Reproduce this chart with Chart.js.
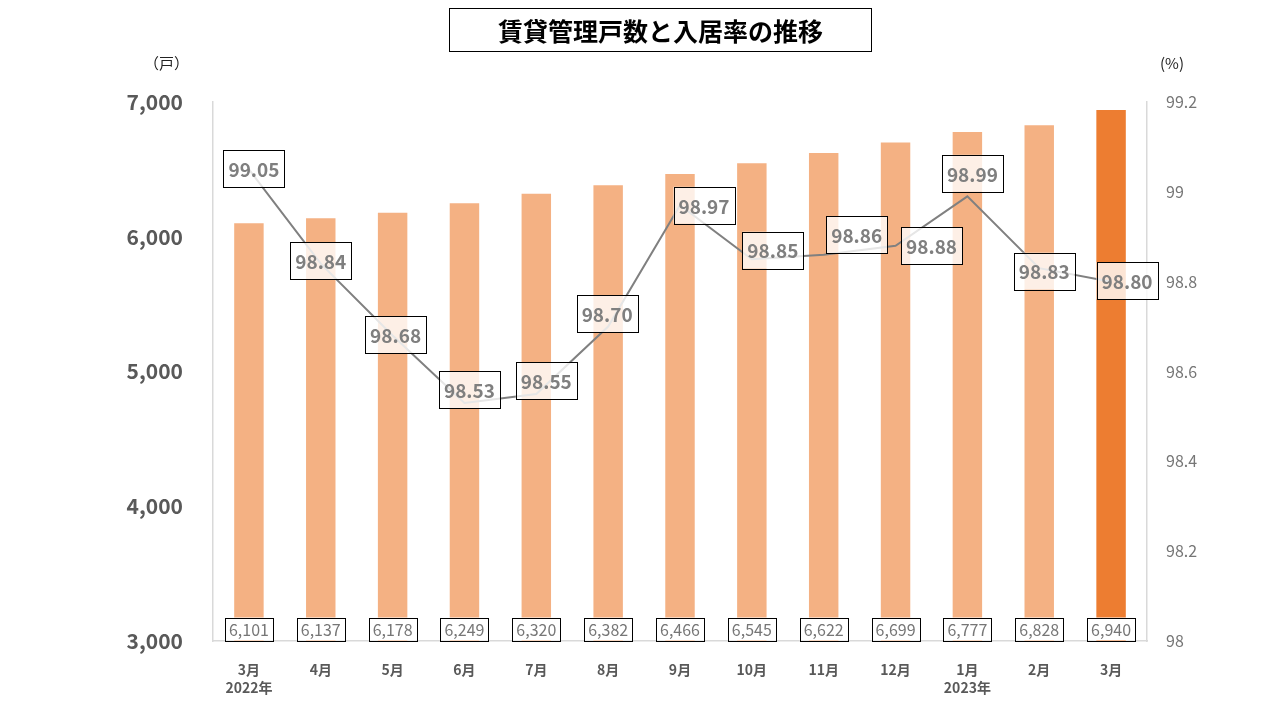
<!DOCTYPE html>
<html>
<head>
<meta charset="utf-8">
<script src="https://cdn.jsdelivr.net/npm/chart.js@4"></script>
<style>
  body { margin: 0; background: #fff; }
  #wrap { position: relative; width: 1280px; height: 720px; font-family: "Noto Sans CJK JP", sans-serif; }
  #title { position: absolute; left: 449px; top: 8px; width: 421px; height: 42px; border: 1.5px solid #000;
           font-size: 25px; font-weight: bold; text-align: center; line-height: 42px; color: #000; }
  .unit { position: absolute; top: 52px; font-size: 15px; color: #222; }
  canvas { position: absolute; left: 0; top: 0; }
</style>
</head>
<body>
<div id="wrap">
  <canvas id="myChart" width="1280" height="720"></canvas>
  <div id="title">賃貸管理戸数と入居率の推移</div>
  <div class="unit" style="left:144px">（戸）</div>
  <div class="unit" style="left:1160px">(%)</div>
</div>
<script>
const labels = [
    ['3月', '2022年'], '4月', '5月', '6月', '7月', '8月', '9月', '10月', '11月', '12月', ['1月', '2023年'], '2月', '3月'
];
const units = [6101, 6137, 6178, 6249, 6320, 6382, 6466, 6545, 6622, 6699, 6777, 6828, 6940];
const occupancy = [99.05, 98.84, 98.68, 98.53, 98.55, 98.70, 98.97, 98.85, 98.86, 98.88, 98.99, 98.83, 98.80];
const leftTicks = [3000, 4000, 5000, 6000, 7000];
const rightTicks = [98, 98.2, 98.4, 98.6, 98.8, 99, 99.2];

// label nudges (px) for the occupancy labels, like the hand placed boxes
const labelShift = [[5,-1],[0,-3],[3,-1],[5,-13],[10,-13],[-1,-13],[24,0],[21,-9],[33,-20],[36,0],[5,-23],[5,3],[16,-1]];

const barColors = units.map((v, i) => i === units.length - 1 ? '#ED7D31' : '#F4B183');
const FONT = '"Noto Sans CJK JP", sans-serif';

const boxLabels = {
    id: 'boxLabels',
    afterDatasetsDraw(chart) {
        const ctx = chart.ctx;
        ctx.save();
        ctx.textAlign = 'center';
        ctx.textBaseline = 'middle';
        // bar values at the bottom
        const barMeta = chart.getDatasetMeta(1);
        ctx.font = '16px ' + FONT;
        barMeta.data.forEach((el, i) => {
            const x = el.x, y = chart.chartArea.bottom - 12;
            const w = 48, h = 23;
            ctx.fillStyle = '#fff';
            ctx.fillRect(x - w / 2, y - h / 2, w, h);
            ctx.strokeStyle = '#000';
            ctx.lineWidth = 1;
            ctx.strokeRect(Math.round(x - w / 2) + 0.5, Math.round(y - h / 2) + 0.5, w, h);
            ctx.fillStyle = '#767676';
            ctx.fillText(units[i].toLocaleString('en-US'), x, y + 1);
        });
        // occupancy values
        const lineMeta = chart.getDatasetMeta(0);
        ctx.font = 'bold 19px ' + FONT;
        lineMeta.data.forEach((el, i) => {
            const x = el.x + labelShift[i][0], y = el.y + labelShift[i][1];
            const w = 61, h = 37;
            ctx.fillStyle = 'rgba(255,255,255,0.8)';
            ctx.fillRect(x - w / 2, y - h / 2, w, h);
            ctx.strokeStyle = '#000';
            ctx.lineWidth = 1;
            ctx.strokeRect(Math.round(x - w / 2) + 0.5, Math.round(y - h / 2) + 0.5, w, h);
            ctx.fillStyle = '#7f7f7f';
            ctx.fillText(occupancy[i].toFixed(2), x, y + 1);
        });
        ctx.restore();
    }
};

const data = {
    labels : labels,
    datasets : [{
        type : 'line',
        label : '入居率',
        data : occupancy,
        yAxisID : 'y1',
        borderColor : '#808080',
        borderWidth : 2,
        pointRadius : 0,
        tension : 0,
        order : 0,
    },{
        type : 'bar',
        label : '賃貸管理戸数',
        data : units,
        yAxisID : 'y',
        backgroundColor : barColors,
        categoryPercentage : 1,
        barPercentage : 0.41,
        order : 1,
    }]
};

const config = {
    data : data,
    options : {
        responsive : false,
        animation : false,
        layout : { padding : { top : 102, left : 0, right : 0, bottom : 0 } },
        plugins : {
            legend : { display : false },
            tooltip : { enabled : false },
        },
        scales : {
            x : {
                grid : { display : false },
                border : { color : '#d9d9d9', width : 1.5 },
                ticks : {
                    color : '#595959',
                    font : { family : FONT, size : 14, weight : 'bold', lineHeight : 1.25 },
                    padding : 12,
                    maxRotation : 0,
                    autoSkip : false,
                },
                afterFit(scale) { scale.height = 79; },
            },
            y : {
                position : 'left',
                min : 3000,
                max : 7000,
                grid : { display : false },
                border : { color : '#d9d9d9', width : 1.5 },
                afterBuildTicks(scale) { scale.ticks = leftTicks.map(v => ({ value : v })); },
                ticks : {
                    color : '#595959',
                    font : { family : FONT, size : 21, weight : 'bold' },
                    padding : 22,
                    callback : v => v.toLocaleString('en-US'),
                },
                afterFit(scale) { scale.width = 213; },
            },
            y1 : {
                position : 'right',
                min : 98,
                max : 99.2,
                grid : { display : false },
                border : { color : '#d9d9d9', width : 1.5 },
                afterBuildTicks(scale) { scale.ticks = rightTicks.map(v => ({ value : v })); },
                ticks : {
                    color : '#767676',
                    font : { family : FONT, size : 16 },
                    padding : 11,
                    callback : v => String(+Number(v).toFixed(1)),
                },
                afterFit(scale) { scale.width = 133; },
            },
        },
    },
    plugins : [boxLabels],
};

const myChart = new Chart(
    document.getElementById('myChart'),
    config
);
</script>
</body>
</html>
